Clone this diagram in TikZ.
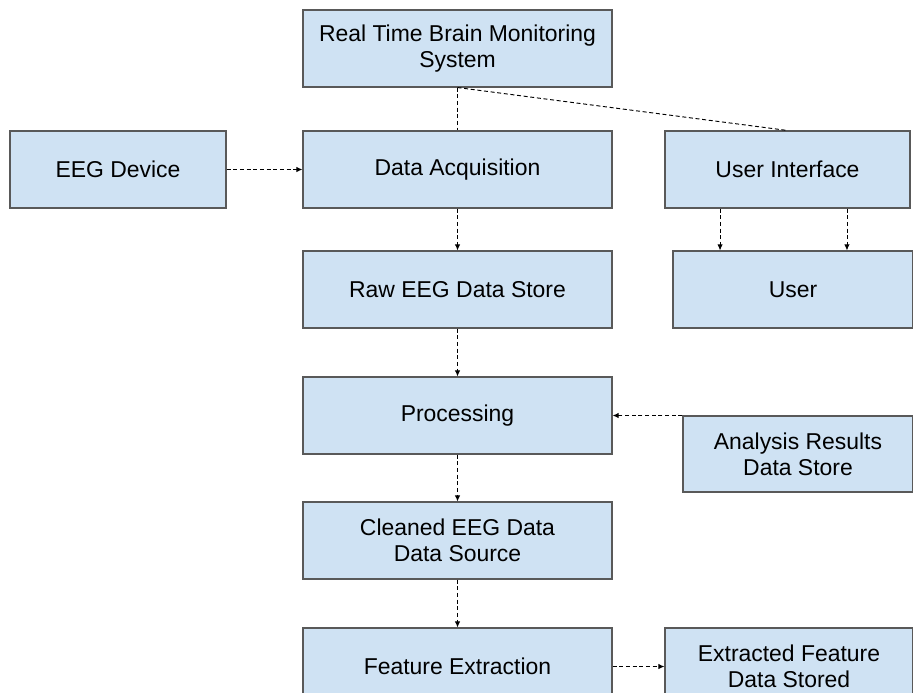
\documentclass[tikz,border=0pt]{standalone}
\usepackage{fontspec}
\setmainfont{Liberation Sans}
\usetikzlibrary{arrows.meta}
\definecolor{boxfill}{HTML}{CFE2F3}
\definecolor{boxline}{HTML}{595959}
\tikzset{
  block/.style={draw=boxline,fill=boxfill,line width=0.8pt,minimum height=57.75pt,
    align=center,font=\fontsize{17.2}{19.5}\selectfont,inner sep=0pt},
  flow/.style={dashed,dash pattern=on 3pt off 2pt,line width=0.7pt,
    -{Latex[length=4.5pt,width=4pt]}},
  link/.style={dashed,dash pattern=on 3pt off 2pt,line width=0.7pt}
}
\begin{document}
\begin{tikzpicture}[x=0.75pt,y=-0.75pt]
 \useasboundingbox (0,0) rectangle (913,692);
 \node[block,minimum width=231.75pt] (sys) at (457.5,48.5) {Real Time Brain Monitoring\\System};
 \node[block,minimum width=162pt] (eeg) at (118,169.5) {EEG Device};
 \node[block,minimum width=231.75pt] (acq) at (457.5,169.5) {Data Acquisition};
 \node[block,minimum width=183.75pt] (ui) at (787.5,169.5) {User Interface};
 \node[block,minimum width=231.75pt] (raw) at (457.5,289.5) {Raw EEG Data Store};
 \node[block,minimum width=180pt] (user) at (793,289.5) {User};
 \node[block,minimum width=231.75pt] (proc) at (457.5,415.5) {Processing};
 \node[block,minimum width=172.5pt,minimum height=57pt] (res) at (798,454) {Analysis Results\\Data Store};
 \node[block,minimum width=231.75pt] (clean) at (457.5,540.5) {Cleaned EEG Data\\Data Source};
 \node[block,minimum width=231.75pt] (feat) at (457.5,666.5) {Feature Extraction};
 \node[block,minimum width=186pt] (ext) at (789,666.5) {Extracted Feature\\Data Stored};
 % links from the system box
 \draw[link] (sys.south) -- (acq.north);
 \draw[link] (sys.south) -- (ui.north);
 % data flow
 \draw[flow] (eeg) -- (acq);
 \draw[flow] ([xshift=-50.6pt]ui.south) -- ([xshift=-50.6pt]ui.south |- user.north);
 \draw[flow] ([xshift=44.6pt]ui.south) -- ([xshift=44.6pt]ui.south |- user.north);
 \draw[flow] (acq) -- (raw);
 \draw[flow] (raw) -- (proc);
 \draw[flow] (res.west |- proc.east) -- (proc.east);
 \draw[flow] (proc) -- (clean);
 \draw[flow] (clean) -- (feat);
 \draw[flow] (feat) -- (ext);
\end{tikzpicture}
\end{document}
